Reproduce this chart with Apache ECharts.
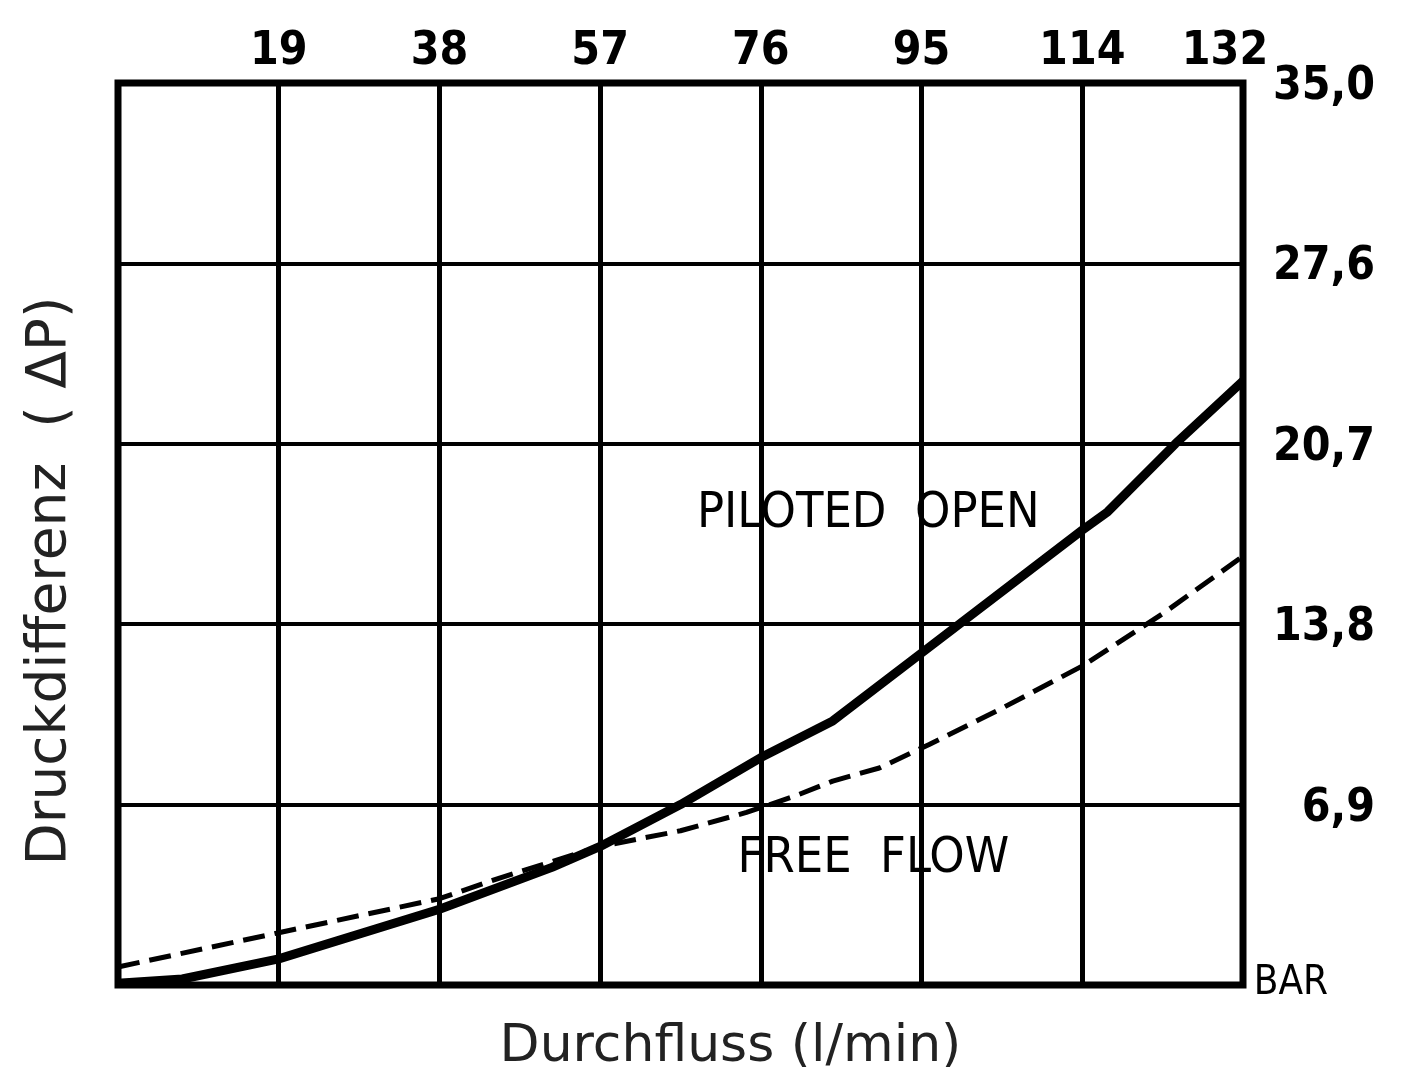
<!DOCTYPE html>
<html>
<head>
<meta charset="utf-8">
<script src="https://cdn.jsdelivr.net/npm/echarts@6/dist/echarts.min.js"></script>
<style>
  html, body { margin: 0; padding: 0; background: #fff; }
  #main { width: 1411px; height: 1067px; }
</style>
</head>
<body>
<div id="main"></div>
<script>
// tick labels
var flowTicks = ['', '19', '38', '57', '76', '95', '114', '132'];
var pressureTicks = ['BAR', '6,9', '13,8', '20,7', '27,6', '35,0'];

// Durchfluss (l/min), Druckdifferenz (bar)
var pilotedOpen = [
  [0, 0.07], [7.6, 0.23], [19, 1.0], [38, 2.9], [51.3, 4.5], [57, 5.3],
  [66.5, 6.9], [76, 8.7], [84.5, 10.1], [95, 12.7], [114, 17.4],
  [117, 18.1], [125, 20.7], [133, 23.1]
];
var freeFlow = [
  [0, 0.69], [19, 2.0], [38, 3.3], [45.2, 4.1], [57, 5.3], [66.5, 5.9],
  [74.3, 6.6], [79.8, 7.2], [84.5, 7.8], [90, 8.3], [95.9, 9.2],
  [104, 10.5], [114, 12.2], [123.5, 14.2], [133, 16.4]
];
var notes = [
  { name: 'PILOTED  OPEN', value: [88.7, 18.0] },
  { name: 'FREE  FLOW', value: [89.3, 4.8] }
];

var font = "'DejaVu Sans Condensed', 'DejaVu Sans', sans-serif";
var chart = echarts.init(document.getElementById('main'));

chart.setOption({
  backgroundColor: '#fff',
  animation: false,
  grid: {
    left: 118, right: 168, top: 83, bottom: 82,
    containLabel: false, outerBoundsMode: 'none',
    show: true, borderColor: '#000', borderWidth: 7, backgroundColor: 'transparent'
  },
  xAxis: [{
    type: 'value', position: 'top', min: 0, max: 133, interval: 19,
    axisLine: { show: false }, axisTick: { show: false },
    splitLine: { show: true, lineStyle: { color: '#000', width: 5 } },
    axisLabel: {
      margin: 8, color: '#000', fontFamily: font, fontSize: 46, fontWeight: 'bold',
      formatter: function (v) {
        var i = Math.round(v / 19);
        return i === 7 ? '{last|' + flowTicks[i] + '}' : flowTicks[i];
      },
      rich: { last: { fontFamily: font, fontSize: 46, fontWeight: 'bold', color: '#000', padding: [0, 36, 0, 0] } }
    }
  }, {
    type: 'value', position: 'bottom', min: 0, max: 133,
    axisLine: { show: false }, axisTick: { show: false }, axisLabel: { show: false },
    splitLine: { show: false },
    name: 'Durchfluss (l/min)', nameLocation: 'middle', nameGap: 36,
    nameTextStyle: {
      color: '#222', fontFamily: "'DejaVu Sans', sans-serif", fontSize: 52,
      padding: [0, 0, 0, 100]
    }
  }],
  yAxis: [{
    type: 'value', position: 'right', min: 0, max: 34.5, interval: 6.9,
    axisLine: { show: false }, axisTick: { show: false },
    splitLine: { show: true, lineStyle: { color: '#000', width: 4 } },
    axisLabel: {
      align: 'right', margin: 132, color: '#000', fontFamily: font, fontSize: 46, fontWeight: 'bold',
      padding: [8, 0, 0, 0],
      formatter: function (v) {
        var i = Math.round(v / 6.9);
        return i === 0 ? '{bar|' + pressureTicks[0] + '}' : pressureTicks[i];
      },
      rich: { bar: { fontFamily: font, fontSize: 40, fontWeight: 'normal', color: '#000', padding: [0, 47, 10, 0] } }
    }
  }, {
    type: 'value', position: 'left', min: 0, max: 34.5,
    axisLine: { show: false }, axisTick: { show: false }, axisLabel: { show: false },
    splitLine: { show: false },
    name: 'Druckdifferenz  ( \u0394P)', nameLocation: 'middle', nameGap: 40, nameRotate: 90,
    nameTextStyle: {
      color: '#222', fontFamily: "'DejaVu Sans', sans-serif", fontSize: 55,
      padding: [0, 94, 0, 0]
    }
  }],
  series: [{
    name: 'PILOTED OPEN', type: 'line', data: pilotedOpen,
    symbol: 'none', lineStyle: { color: '#000', width: 9 }, z: 5
  }, {
    name: 'FREE FLOW', type: 'line', data: freeFlow,
    symbol: 'none', lineStyle: { color: '#000', width: 5, type: [22, 10] }, z: 4
  }, {
    type: 'scatter', data: notes, symbolSize: 0, silent: true,
    itemStyle: { color: '#000', opacity: 1 },
    label: {
      show: true, position: 'inside', formatter: '{b}', opacity: 1,
      color: '#000', fontFamily: font, fontSize: 50
    }
  }]
});
</script>
</body>
</html>
